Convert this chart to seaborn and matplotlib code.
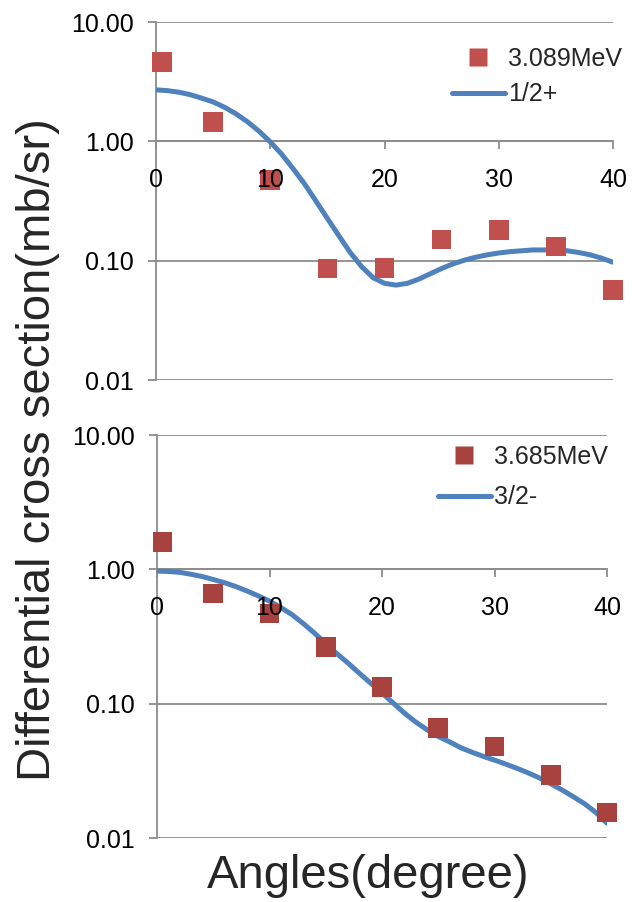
import numpy as np
import pandas as pd
import matplotlib
matplotlib.use("Agg")
import matplotlib.pyplot as plt
import matplotlib.transforms as mtransforms
import seaborn as sns
from matplotlib.ticker import FixedLocator, FuncFormatter, NullFormatter
from matplotlib.lines import Line2D

sns.set_style("white")
plt.rcParams["font.family"] = ["Liberation Sans", "DejaVu Sans"]

# Measured angular distributions
angles_exp = [0.5, 5, 10, 15, 20, 25, 30, 35, 40]
xs_3089 = [4.6, 1.46, 0.476, 0.086, 0.087, 0.150, 0.180, 0.131, 0.057]
xs_3685 = [1.6, 0.66, 0.47, 0.263, 0.133, 0.066, 0.048, 0.0295, 0.0155]

# Calculated curves (one value per degree)
angles_calc = list(range(0, 41))
calc_half_plus = [2.70, 2.66, 2.58, 2.46, 2.30, 2.14, 1.93, 1.70, 1.46, 1.22,
                  0.99, 0.78, 0.59, 0.44, 0.316, 0.226, 0.162, 0.117, 0.089,
                  0.072, 0.0646, 0.0624, 0.0646, 0.070, 0.0776, 0.086, 0.094,
                  0.101, 0.107, 0.112, 0.116, 0.119, 0.121, 0.123, 0.123,
                  0.123, 0.121, 0.117, 0.112, 0.105, 0.097]
calc_three_half_minus = [0.97, 0.965, 0.95, 0.92, 0.885, 0.84, 0.795, 0.745,
                         0.69, 0.635, 0.58, 0.52, 0.46, 0.395, 0.335, 0.28,
                         0.235, 0.20, 0.168, 0.142, 0.12, 0.101, 0.085, 0.073,
                         0.064, 0.057, 0.052, 0.047, 0.0435, 0.0405, 0.038,
                         0.0355, 0.033, 0.0305, 0.028, 0.0253, 0.0228, 0.0203,
                         0.018, 0.0155, 0.0129]

x_ticks = [0, 10, 20, 30, 40]
y_ticks = [0.01, 0.1, 1, 10]

GRID = "#8c8c8c"
BLUE = "#4f81bd"

W, H = 634, 902
fig = plt.figure(figsize=(W / 100, H / 100), dpi=100)


def fbox(l, t, r, b):
    return [l / W, 1 - b / H, (r - l) / W, (b - t) / H]


panels = [
    dict(box=fbox(156, 22, 613, 380), y=xs_3089, mcolor="#c0504d",
         cy=calc_half_plus, mlabel="3.089MeV", clabel="1/2+",
         leg=(452, 47), lspace=0.45),
    dict(box=fbox(157, 435, 607, 838), y=xs_3685, mcolor="#a8423f",
         cy=calc_three_half_minus, mlabel="3.685MeV", clabel="3/2-",
         leg=(438, 445), lspace=0.65),
]

for p in panels:
    ax = fig.add_axes(p["box"])
    ax.set_yscale("log")
    sns.lineplot(x=angles_calc, y=p["cy"], ax=ax, color=BLUE, lw=3.6,
                 solid_capstyle="round", zorder=3, legend=False)
    sns.scatterplot(x=angles_exp, y=p["y"], ax=ax, marker="s", s=200,
                    color=p["mcolor"], edgecolor="none", zorder=4,
                    legend=False, clip_on=False)
    ax.set_xlim(0, 40)
    ax.set_ylim(0.01, 10)
    ax.yaxis.set_major_locator(FixedLocator(y_ticks))
    ax.yaxis.set_minor_locator(FixedLocator([]))
    ax.yaxis.set_major_formatter(FuncFormatter(lambda v, _: f"{v:.2f}"))
    ax.xaxis.set_major_locator(FixedLocator(x_ticks))
    ax.xaxis.set_major_formatter(NullFormatter())
    ax.grid(axis="y", color=GRID, lw=1.3)
    ax.grid(axis="x", visible=False)
    for s in ("top", "right"):
        ax.spines[s].set_visible(False)
    ax.spines["left"].set_color(GRID)
    ax.spines["left"].set_linewidth(1.3)
    ax.spines["bottom"].set_position(("data", 1))
    ax.spines["bottom"].set_color(GRID)
    ax.spines["bottom"].set_linewidth(1.3)
    ax.tick_params(axis="both", which="major", direction="out", length=6,
                   width=1.3, color=GRID, labelsize=18, labelcolor="black")
    ax.tick_params(axis="x", bottom=True)
    ax.tick_params(axis="y", pad=10, left=True)
    ax.set_xlabel("")
    ax.set_ylabel("")

    # x tick labels sit on the y=1 crossing and are drawn above the markers
    off = mtransforms.offset_copy(ax.transData, fig=fig, x=0, y=-19,
                                  units="points")
    for t in x_ticks:
        ax.text(t, 1, str(t), transform=off, ha="center", va="top",
                fontsize=18, color="black", zorder=6, clip_on=False)

    handles = [
        Line2D([], [], ls="none", marker="s", markersize=13,
               markerfacecolor=p["mcolor"], markeredgecolor="none"),
        Line2D([], [], color=BLUE, lw=3.6, solid_capstyle="round"),
    ]
    lx, ly = p["leg"]
    fig.legend(handles, [p["mlabel"], p["clabel"]], loc="upper left",
               bbox_to_anchor=(lx / W, 1 - ly / H), frameon=False, fontsize=18,
               handlelength=2.1, handletextpad=0.15, borderpad=0,
               borderaxespad=0, labelspacing=p["lspace"])

fig.text(38 / W, 1 - 450 / H, "Differential cross section(mb/sr)",
         rotation=90, ha="center", va="center", fontsize=34)
fig.text(368 / W, 1 - 876 / H, "Angles(degree)", ha="center", va="center",
         fontsize=34)

fig.savefig("out.png", dpi=100)
